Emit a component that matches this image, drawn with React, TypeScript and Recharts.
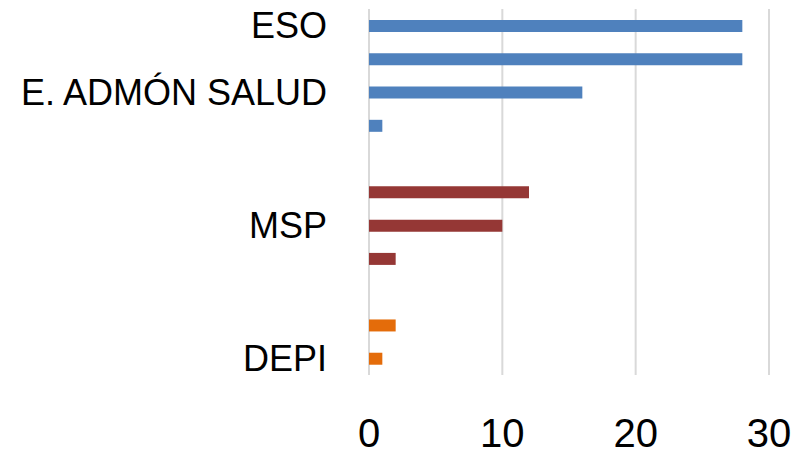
import { BarChart, Bar, XAxis, YAxis, CartesianGrid, Cell } from "recharts";

// one slot per bar row, top to bottom; empty names are rows without a printed label
const slotLabels = ["ESO", "", "E. ADMÓN SALUD", "", "", "", "MSP", "", "", "", "DEPI"];
const slotValues = [28, 28, 16, 1, null, 12, 10, 2, null, 2, 1];
const slotGroup = [0, 0, 0, 0, -1, 1, 1, 1, -1, 2, 2];
const groupColors = ["#4f81bd", "#953735", "#e46c0a"];
const xTicks = [0, 10, 20, 30];

const data = slotLabels.map((label, i) => ({
    slot: i,
    label,
    value: slotValues[i],
    group: slotGroup[i]
}));

const font = "'Liberation Sans', Arial, sans-serif";

export default function App() {
    return (
        <div style={{ position: "absolute", left: 0, top: 0 }}>
            <BarChart
                width={806}
                height={456}
                data={data}
                layout="vertical"
                margin={{ top: 9, right: 37, bottom: 0, left: 0 }}
                barSize={12}
            >
                <CartesianGrid horizontal={false} stroke="#d9d9d9" strokeWidth={2} />
                <XAxis
                    type="number"
                    domain={[0, 30]}
                    ticks={xTicks}
                    axisLine={false}
                    tickLine={false}
                    tickSize={0}
                    tickMargin={44}
                    height={81}
                    tick={{ fill: "#000", fontSize: 40, fontFamily: font }}
                />
                <YAxis
                    type="category"
                    dataKey="slot"
                    width={369}
                    interval={0}
                    axisLine={false}
                    tickLine={false}
                    tickSize={0}
                    tickMargin={42}
                    tickFormatter={(i: number) => slotLabels[i]}
                    tick={{ fill: "#000", fontSize: 36, fontFamily: font }}
                />
                <Bar dataKey="value" isAnimationActive={false}>
                    {data.map((d, i) => (
                        <Cell key={i} fill={d.group >= 0 ? groupColors[d.group] : "none"} />
                    ))}
                </Bar>
            </BarChart>
        </div>
    );
}
